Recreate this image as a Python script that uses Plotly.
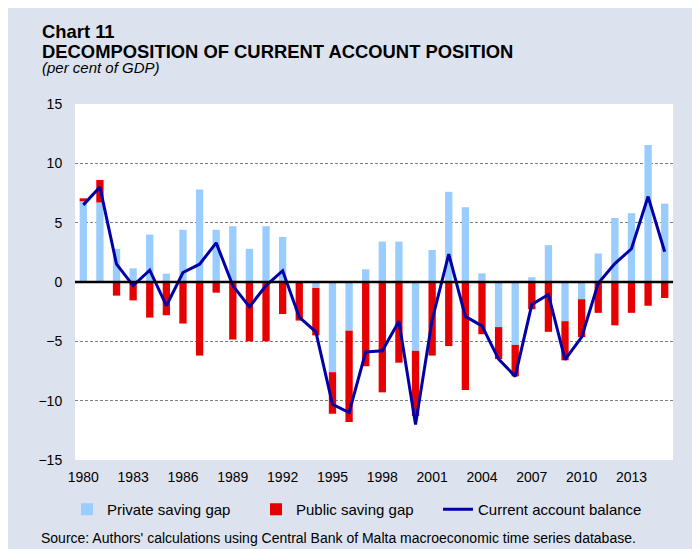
import plotly.graph_objects as go

years = list(range(1980, 2016))
private_gap = [6.8, 6.7, 2.8, 1.15, 4.0, 0.7, 4.4, 7.8, 4.4, 4.7, 2.8, 4.7,
               3.8, 0.0, -0.5, -7.6, -4.1, 1.07, 3.4, 3.4, -5.8, 2.7, 7.6, 6.3,
               0.73, -3.8, -5.3, 0.4, 3.1, -3.3, -1.45, 2.4, 5.4, 5.8, 11.55, 6.6]
public_gap = [0.25, 1.9, -1.15, -1.55, -3.0, -2.8, -3.5, -6.2, -0.9, -4.85, -5.0, -5.0,
              -2.7, -3.25, -4.0, -3.5, -7.7, -7.1, -9.3, -6.8, -5.5, -6.2, -5.4, -9.1,
              -4.4, -2.7, -2.65, -2.3, -4.2, -3.3, -3.2, -2.6, -3.65, -2.6, -2.0, -1.35]
current_account = [6.5, 8.0, 1.5, -0.3, 1.0, -2.0, 0.8, 1.5, 3.3, -0.3, -2.1, -0.3,
                   0.95, -2.95, -4.2, -10.3, -11.0, -5.9, -5.8, -3.3, -12.0, -3.2, 2.35, -2.9,
                   -3.7, -6.5, -7.95, -1.9, -1.05, -6.55, -4.65, -0.1, 1.55, 2.8, 7.2, 2.55]
x_tick_vals = list(range(1980, 2014, 3))
x_tick_text = [str(v) for v in x_tick_vals]
y_tick_vals = [-15, -10, -5, 0, 5, 10, 15]

FONT = "Arial, Liberation Sans, sans-serif"
BG = "#DCE3EF"

fig = go.Figure()
fig.add_trace(go.Bar(x=years, y=private_gap, name="Private saving gap", legend="legend",
                     marker=dict(color="#99CCFF", line=dict(width=0))))
fig.add_trace(go.Bar(x=years, y=public_gap, name="Public saving gap", legend="legend2",
                     marker=dict(color="#E60000", line=dict(width=0))))
fig.add_trace(go.Scatter(x=years, y=current_account, name="Current account balance",
                         legend="legend3", mode="lines", line=dict(color="#0000A8", width=3)))

# page is offset by the default 8px body margin
OFF = 8
W, H = 700, 549
L, T = 75 - OFF, 104 - OFF
R, B = W - (673 - OFF), H - (460 - OFF)
pw, ph = W - L - R, H - T - B


def px_x(p):
    return (p - OFF - L) / pw


def px_y(p):
    return (H - B - (p - OFF)) / ph


def leg(xpx):
    return dict(orientation="h", x=px_x(xpx), xanchor="left",
                y=px_y(509.5), yanchor="middle",
                font=dict(size=15), bgcolor="rgba(0,0,0,0)")


fig.update_layout(
    width=W, height=H,
    margin=dict(l=L, r=R, t=T, b=B),
    paper_bgcolor=BG, plot_bgcolor="white",
    barmode="relative", bargap=0.56,
    font=dict(family=FONT, size=14, color="black"),
    showlegend=True,
    legend=leg(67), legend2=leg(256), legend3=leg(438),
    xaxis=dict(range=[1979.5, 2015.5], tickvals=x_tick_vals, ticktext=x_tick_text,
               showgrid=False, zeroline=False, showline=False,
               ticks="outside", ticklen=4, tickcolor="rgba(0,0,0,0)",
               tickfont=dict(size=14)),
    yaxis=dict(range=[-15, 15], tickvals=y_tick_vals,
               showgrid=True, gridcolor="#808080", gridwidth=1, griddash="3px,2px",
               zeroline=False, showline=False,
               ticks="outside", ticklen=9, tickcolor="rgba(0,0,0,0)",
               tickfont=dict(size=14)),
    shapes=[
        dict(type="line", xref="paper", yref="y", x0=0, x1=1, y0=0, y1=0,
             line=dict(color="black", width=2.5), layer="above"),
    ],
    annotations=[
        dict(text="<b>Chart 11</b>", xref="paper", yref="paper", x=px_x(40), y=px_y(31),
             xanchor="left", yanchor="middle", showarrow=False, font=dict(size=18.4)),
        dict(text="<b>DECOMPOSITION OF CURRENT ACCOUNT POSITION</b>", xref="paper", yref="paper",
             x=px_x(40), y=px_y(51.5), xanchor="left", yanchor="middle", showarrow=False,
             font=dict(size=18.4)),
        dict(text="<i>(per cent of GDP)</i>", xref="paper", yref="paper", x=px_x(40), y=px_y(68),
             xanchor="left", yanchor="middle", showarrow=False, font=dict(size=15)),
        dict(text="Source: Authors' calculations using Central Bank of Malta macroeconomic time series database.",
             xref="paper", yref="paper", x=px_x(39), y=px_y(538), xanchor="left", yanchor="middle",
             showarrow=False, font=dict(size=14)),
    ],
)

fig.write_html("out.html")
